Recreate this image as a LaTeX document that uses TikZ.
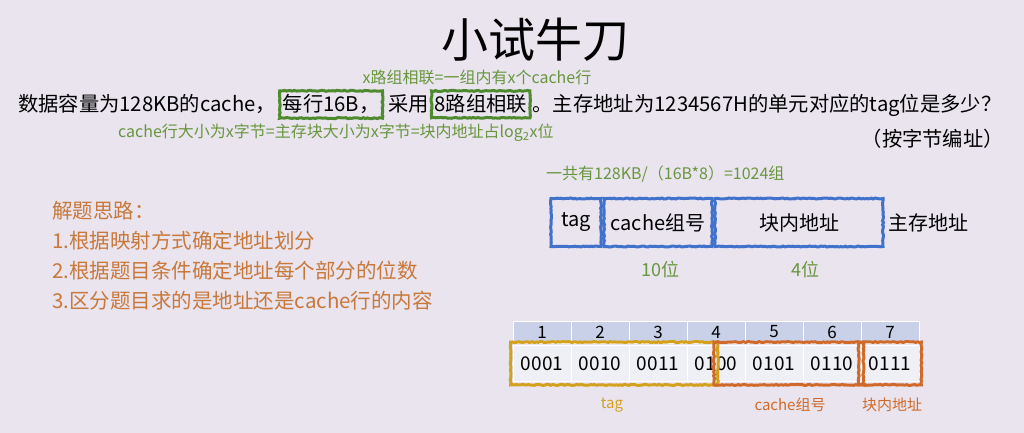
\documentclass[tikz,border=0pt]{standalone}
\usepackage{fontspec}
\setmainfont{Noto Sans CJK SC}
\usetikzlibrary{fit,decorations.pathmorphing}

\definecolor{bgpurple}{RGB}{233,228,238}
\definecolor{notegreen}{RGB}{104,150,62}
\definecolor{boxgreen}{RGB}{78,138,46}
\definecolor{hintorange}{RGB}{200,120,58}
\definecolor{fieldblue}{RGB}{64,114,204}
\definecolor{headblue}{RGB}{201,209,232}
\definecolor{datawhite}{RGB}{238,240,246}
\definecolor{tagyellow}{RGB}{212,161,30}
\definecolor{partorange}{RGB}{208,106,42}

\begin{document}
\begin{tikzpicture}[x=1pt,y=-1pt]
\tikzset{rough/.style={decorate,decoration={random steps,segment length=2pt,amplitude=0.5pt}}}
\tikzset{ques/.style={font=\fontsize{20.3}{24}\selectfont,inner sep=0pt,anchor=base west}}
\tikzset{note/.style={font=\fontsize{16}{18}\selectfont,text=notegreen,inner sep=0pt}}
\tikzset{greenbox/.style={draw=boxgreen,line width=3pt,rough,inner xsep=3pt,inner ysep=4pt}}
\tikzset{hint/.style={font=\fontsize{20.5}{24}\selectfont,text=hintorange,inner sep=0pt,anchor=west}}
\tikzset{field/.style={draw=fieldblue,line width=3pt,rough,minimum height=48pt,inner sep=0pt,font=\fontsize{20}{24}\selectfont}}
\tikzset{headcell/.style={fill=headblue,draw=white,line width=0.8pt,minimum width=58pt,minimum height=22pt,inner sep=0pt,font=\fontsize{17}{20}\selectfont}}
\tikzset{datacell/.style={fill=datawhite,draw=white,line width=0.8pt,minimum width=58pt,minimum height=36pt,inner sep=0pt,font=\fontsize{19}{22}\selectfont}}
\tikzset{partbox/.style={line width=3pt,rough,inner xsep=2pt,inner ysep=3pt}}

\fill[bgpurple] (0,0) rectangle (1024,433);
\useasboundingbox (0,0) rectangle (1024,433);

% title
\node[font=\fontsize{47}{50}\selectfont] (title) at (535,40) {小试牛刀};

% question line
\node[ques] (q1) at (18,112) {数据容量为128KB的cache，};
\node[ques,greenbox] (b1) at ([xshift=2pt]q1.base east) {每行16B，};
\node[ques] (q2) at ([xshift=4pt]b1.base east) {采用};
\node[ques,greenbox] (b2) at ([xshift=1pt]q2.base east) {8路组相联};
\node[ques] (q3) at ([xshift=1pt]b2.base east) {。主存地址为1234567H的单元对应的tag位是多少？};
\node[ques,anchor=base east] (q4) at (1004,146) {（按字节编址）};

\node[note] (n1) at (477,77) {x路组相联=一组内有x个cache行};
\node[note,anchor=west] (n2) at (118,133) {cache行大小为x字节=主存块大小为x字节=块内地址占log\textsubscript{2}x位};

% hints
\node[hint] (hint0) at (52,211) {解题思路：};
\foreach \txt [count=\i] in {1.根据映射方式确定地址划分,2.根据题目条件确定地址每个部分的位数,3.区分题目求的是地址还是cache行的内容} {
  \node[hint] (hint\i) at (52,211+30*\i) {\txt};
}

% address format
\node[note,anchor=west] (sum) at (546,174) {一共有128KB/（16B*8）=1024组};
\node[field,minimum width=50pt] (ftag) at (576,222.5) {tag};
\node[field,minimum width=108pt,anchor=west] (fset) at (ftag.east) {cache组号};
\node[field,minimum width=168pt,anchor=west] (foff) at (fset.east) {块内地址};
\node[font=\fontsize{20}{24}\selectfont,inner sep=0pt,anchor=west] (mem) at ([xshift=4pt]foff.east) {主存地址};
\node[font=\fontsize{18}{20}\selectfont,text=notegreen] (bits1) at (660,270) {10位};
\node[font=\fontsize{18}{20}\selectfont,text=notegreen] (bits2) at (805,270) {4位};

% table
\foreach \i/\v in {1/0001,2/0010,3/0011,4/0100,5/0101,6/0110,7/0111} {
  \node[headcell] (h\i) at ({513+58*\i-29},332) {\i};
  \node[datacell] (d\i) at ({513+58*\i-29},363.5) {\v};
}

\node[partbox,draw=tagyellow,fit=(d1)(d4.north)(d4.south)] (tagpart) {};
\node[partbox,draw=partorange,fit=(d4.north)(d4.south)(d6)] (setpart) {};
\node[partbox,draw=partorange,fit=(d7)] (offpart) {};

\node[font=\fontsize{15}{18}\selectfont,text=tagyellow] (ltag) at (612,405) {tag};
\node[font=\fontsize{15}{18}\selectfont,text=partorange] (lset) at (790,405) {cache组号};
\node[font=\fontsize{15}{18}\selectfont,text=partorange] (loff) at (892,405) {块内地址};
\end{tikzpicture}
\end{document}
